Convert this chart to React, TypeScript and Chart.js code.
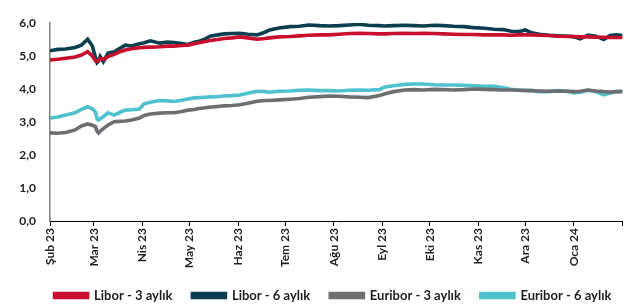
import { useEffect, useRef } from 'react';
import { Chart, registerables } from 'chart.js';
Chart.register(...registerables);

// day offsets from 1 Feb 2023
const days = [0, 5, 10, 16, 20, 24, 27, 29, 30, 31, 32, 34, 37, 41, 44, 48, 52, 57, 60, 64, 70, 75, 79, 84, 88, 92, 95, 99, 102, 107, 111, 116, 121, 126, 132, 137, 140, 146, 153, 159, 165, 172, 178, 184, 191, 197, 203, 210, 213, 219, 226, 232, 238, 245, 251, 257, 264, 270, 277, 283, 289, 294, 299, 303, 307, 312, 318, 324, 331, 334, 338, 343, 348, 353, 357, 361, 365];

const libor3 = [4.88, 4.90, 4.93, 4.97, 5.03, 5.13, 5.00, 4.85, 4.84, 4.86, 4.92, 4.90, 4.98, 5.05, 5.12, 5.18, 5.22, 5.25, 5.26, 5.27, 5.28, 5.30, 5.30, 5.32, 5.33, 5.37, 5.40, 5.44, 5.47, 5.50, 5.53, 5.55, 5.58, 5.55, 5.51, 5.53, 5.55, 5.58, 5.59, 5.61, 5.63, 5.64, 5.64, 5.66, 5.68, 5.69, 5.68, 5.67, 5.67, 5.68, 5.69, 5.68, 5.69, 5.68, 5.67, 5.66, 5.65, 5.65, 5.64, 5.64, 5.64, 5.63, 5.64, 5.64, 5.64, 5.63, 5.62, 5.60, 5.59, 5.59, 5.58, 5.58, 5.57, 5.57, 5.56, 5.56, 5.56];

const libor6 = [5.16, 5.20, 5.21, 5.26, 5.33, 5.51, 5.30, 4.95, 4.80, 4.85, 4.98, 4.83, 5.09, 5.13, 5.22, 5.33, 5.30, 5.37, 5.40, 5.46, 5.39, 5.42, 5.41, 5.38, 5.35, 5.42, 5.45, 5.52, 5.60, 5.64, 5.67, 5.68, 5.69, 5.66, 5.64, 5.72, 5.79, 5.85, 5.89, 5.90, 5.94, 5.92, 5.91, 5.92, 5.94, 5.96, 5.93, 5.92, 5.91, 5.92, 5.93, 5.92, 5.91, 5.93, 5.92, 5.90, 5.89, 5.86, 5.84, 5.81, 5.80, 5.75, 5.74, 5.79, 5.70, 5.66, 5.63, 5.61, 5.60, 5.58, 5.52, 5.63, 5.60, 5.50, 5.62, 5.64, 5.62];

const euribor3 = [2.67, 2.66, 2.68, 2.76, 2.88, 2.94, 2.90, 2.86, 2.72, 2.67, 2.72, 2.80, 2.91, 3.01, 3.02, 3.03, 3.06, 3.12, 3.20, 3.24, 3.27, 3.28, 3.28, 3.32, 3.36, 3.38, 3.41, 3.43, 3.45, 3.47, 3.49, 3.50, 3.52, 3.57, 3.63, 3.65, 3.65, 3.67, 3.69, 3.71, 3.75, 3.77, 3.79, 3.78, 3.76, 3.75, 3.74, 3.80, 3.85, 3.92, 3.97, 3.98, 3.97, 3.99, 3.98, 3.97, 3.98, 4.00, 3.99, 3.98, 3.97, 3.97, 3.96, 3.95, 3.95, 3.94, 3.93, 3.94, 3.93, 3.92, 3.93, 3.97, 3.94, 3.92, 3.91, 3.92, 3.92];

const euribor6 = [3.12, 3.15, 3.21, 3.28, 3.38, 3.46, 3.40, 3.30, 3.10, 3.06, 3.10, 3.16, 3.28, 3.21, 3.28, 3.36, 3.37, 3.39, 3.55, 3.60, 3.65, 3.64, 3.62, 3.66, 3.70, 3.73, 3.74, 3.75, 3.76, 3.77, 3.79, 3.80, 3.82, 3.87, 3.93, 3.92, 3.90, 3.93, 3.94, 3.96, 3.97, 3.95, 3.95, 3.94, 3.96, 3.97, 3.96, 3.98, 4.05, 4.10, 4.14, 4.15, 4.15, 4.13, 4.12, 4.12, 4.11, 4.10, 4.08, 4.08, 4.04, 3.99, 3.97, 3.96, 3.95, 3.92, 3.92, 3.95, 3.92, 3.88, 3.90, 3.96, 3.92, 3.82, 3.88, 3.92, 3.93];

const monthTicks = [0, 28, 59, 89, 120, 150, 181, 212, 242, 273, 303, 334, 365];
const monthLabels = ['Şub 23', 'Mar 23', 'Nis 23', 'May 23', 'Haz 23', 'Tem 23', 'Ağu 23', 'Eyl 23', 'Eki 23', 'Kas 23', 'Ara 23', 'Oca 24', ''];
const yTicks = [0, 1, 2, 3, 4, 5, 6];

const seriesNames = ['Libor - 3 aylık', 'Libor - 6 aylık', 'Euribor - 3 aylık', 'Euribor - 6 aylık'];
const seriesColors = ['#c8102e', '#0b3f4f', '#6d6e71', '#4fc1cf'];
const seriesValues = [libor3, libor6, euribor3, euribor6];

const FONT = 'Lato, "Open Sans", sans-serif';
const TEXT = '#1f1f1f';

const legendShift = {
  id: 'legendShift',
  afterLayout(chart: any) {
    if (chart.legend) {
      chart.legend.left += 21;
      chart.legend.right += 21;
    }
  },
};

export default function App() {
  const ref = useRef<HTMLCanvasElement | null>(null);
  useEffect(() => {
    if (!ref.current) return;
    const chart = new Chart(ref.current, {
      type: 'line',
      plugins: [legendShift],
      data: {
        datasets: seriesValues.map((vals, si) => ({
          label: seriesNames[si],
          data: days.map((d, i) => ({ x: d, y: vals[i] })),
          borderColor: seriesColors[si],
          backgroundColor: seriesColors[si],
          borderWidth: 3.6,
          pointRadius: 0,
          tension: 0,
          fill: false,
        })),
      },
      options: {
        responsive: false,
        animation: false,
        layout: { padding: { top: 23, right: 15, left: 0, bottom: -8 } },
        plugins: {
          tooltip: { enabled: false },
          legend: {
            position: 'bottom',
            labels: {
              boxWidth: 33,
              boxHeight: 4,
              padding: 20,
              color: TEXT,
              font: { family: FONT, size: 13, weight: 'bold' },
            },
          },
        },
        scales: {
          x: {
            type: 'linear',
            min: 0,
            max: 365,
            afterBuildTicks: (scale: any) => {
              scale.ticks = monthTicks.map((v) => ({ value: v }));
            },
            afterFit: (scale: any) => {
              scale.height = 48;
            },
            ticks: {
              autoSkip: false,
              minRotation: 90,
              maxRotation: 90,
              padding: 2,
              color: TEXT,
              font: { family: FONT, size: 12, weight: 'bold' },
              callback: (value: any) => {
                const idx = monthTicks.indexOf(Number(value));
                return idx >= 0 ? monthLabels[idx] : '';
              },
            },
            grid: {
              display: true,
              drawOnChartArea: false,
              drawTicks: true,
              tickLength: 5,
              color: '#000000',
            },
            border: { display: true, color: '#000000', width: 1 },
          },
          y: {
            min: 0,
            max: 6,
            afterBuildTicks: (scale: any) => {
              scale.ticks = yTicks.map((v) => ({ value: v }));
            },
            afterFit: (scale: any) => {
              scale.width = 50;
            },
            ticks: {
              padding: 14,
              color: TEXT,
              font: { family: FONT, size: 12, weight: 'bold' },
              callback: (value: any) => Number(value).toFixed(1).replace('.', ','),
            },
            grid: { display: false, drawTicks: false },
            border: { display: true, color: '#808080', width: 1.5 },
          },
        },
      },
    });
    return () => chart.destroy();
  }, []);
  return (
    <div style={{ position: 'absolute', left: 0, top: 0, width: 639, height: 304, background: '#fff' }}>
      <canvas ref={ref} width={639} height={304} />
    </div>
  );
}
